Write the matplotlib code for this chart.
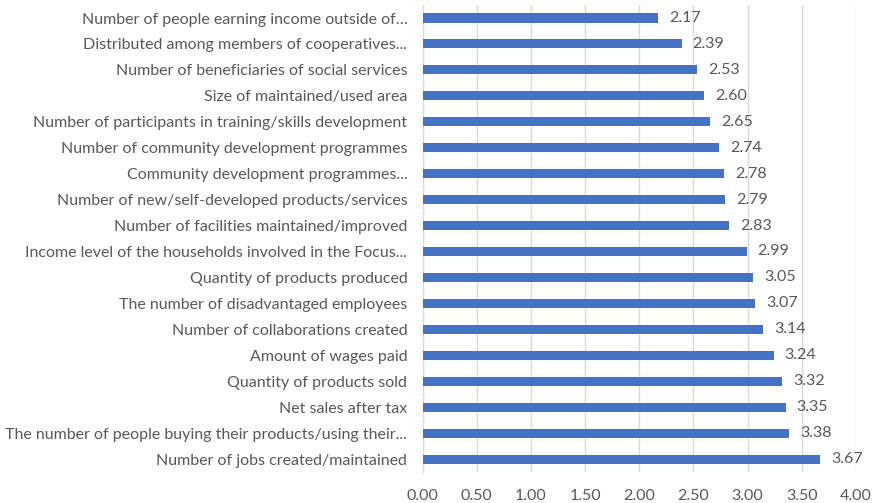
import matplotlib.pyplot as plt

# indicators listed top to bottom as in the chart
labels = [
    'Number of people earning income outside of…',
    'Distributed among members of cooperatives...',
    'Number of beneficiaries of social services',
    'Size of maintained/used area',
    'Number of participants in training/skills development',
    'Number of community development programmes',
    'Community development programmes...',
    'Number of new/self-developed products/services',
    'Number of facilities maintained/improved',
    'Income level of the households involved in the Focus...',
    'Quantity of products produced',
    'The number of disadvantaged employees',
    'Number of collaborations created',
    'Amount of wages paid',
    'Quantity of products sold',
    'Net sales after tax',
    'The number of people buying their products/using their...',
    'Number of jobs created/maintained',
]
scores = [2.17, 2.39, 2.53, 2.60, 2.65, 2.74, 2.78, 2.79, 2.83, 2.99,
          3.05, 3.07, 3.14, 3.24, 3.32, 3.35, 3.38, 3.67]
xticks = [0, 0.5, 1, 1.5, 2, 2.5, 3, 3.5, 4]

plt.rcParams['font.family'] = ['Lato', 'DejaVu Sans']
text_color = '#595959'

fig = plt.figure(figsize=(8.79, 5.03), dpi=100)
ax = fig.add_axes([0.4807, 0.0616, 0.4931, 0.9284])

pos = list(range(len(labels)))
ax.barh(pos, scores, height=0.35, color='#4472C4', zorder=3)
for p, v in zip(pos, scores):
    ax.annotate(f'{v:.2f}', (v, p), xytext=(8, 0), textcoords='offset points',
                va='center', ha='left', fontsize=11.5, color=text_color)

ax.set_ylim(len(labels) - 0.5, -0.5)
ax.set_yticks(pos)
ax.set_yticklabels(labels, fontsize=11.5, color=text_color)
ax.set_xlim(0, 4)
ax.set_xticks(xticks)
ax.set_xticklabels([f'{t:.2f}' for t in xticks], fontsize=11.5, color=text_color)
ax.tick_params(axis='y', length=0, pad=11)
ax.tick_params(axis='x', length=0, pad=12)
ax.grid(axis='x', color='#D9D9D9', linewidth=1, zorder=0)
for s in ['top', 'right', 'bottom']:
    ax.spines[s].set_visible(False)
ax.spines['left'].set_color('#D9D9D9')

fig.savefig('out.png', dpi=100)
